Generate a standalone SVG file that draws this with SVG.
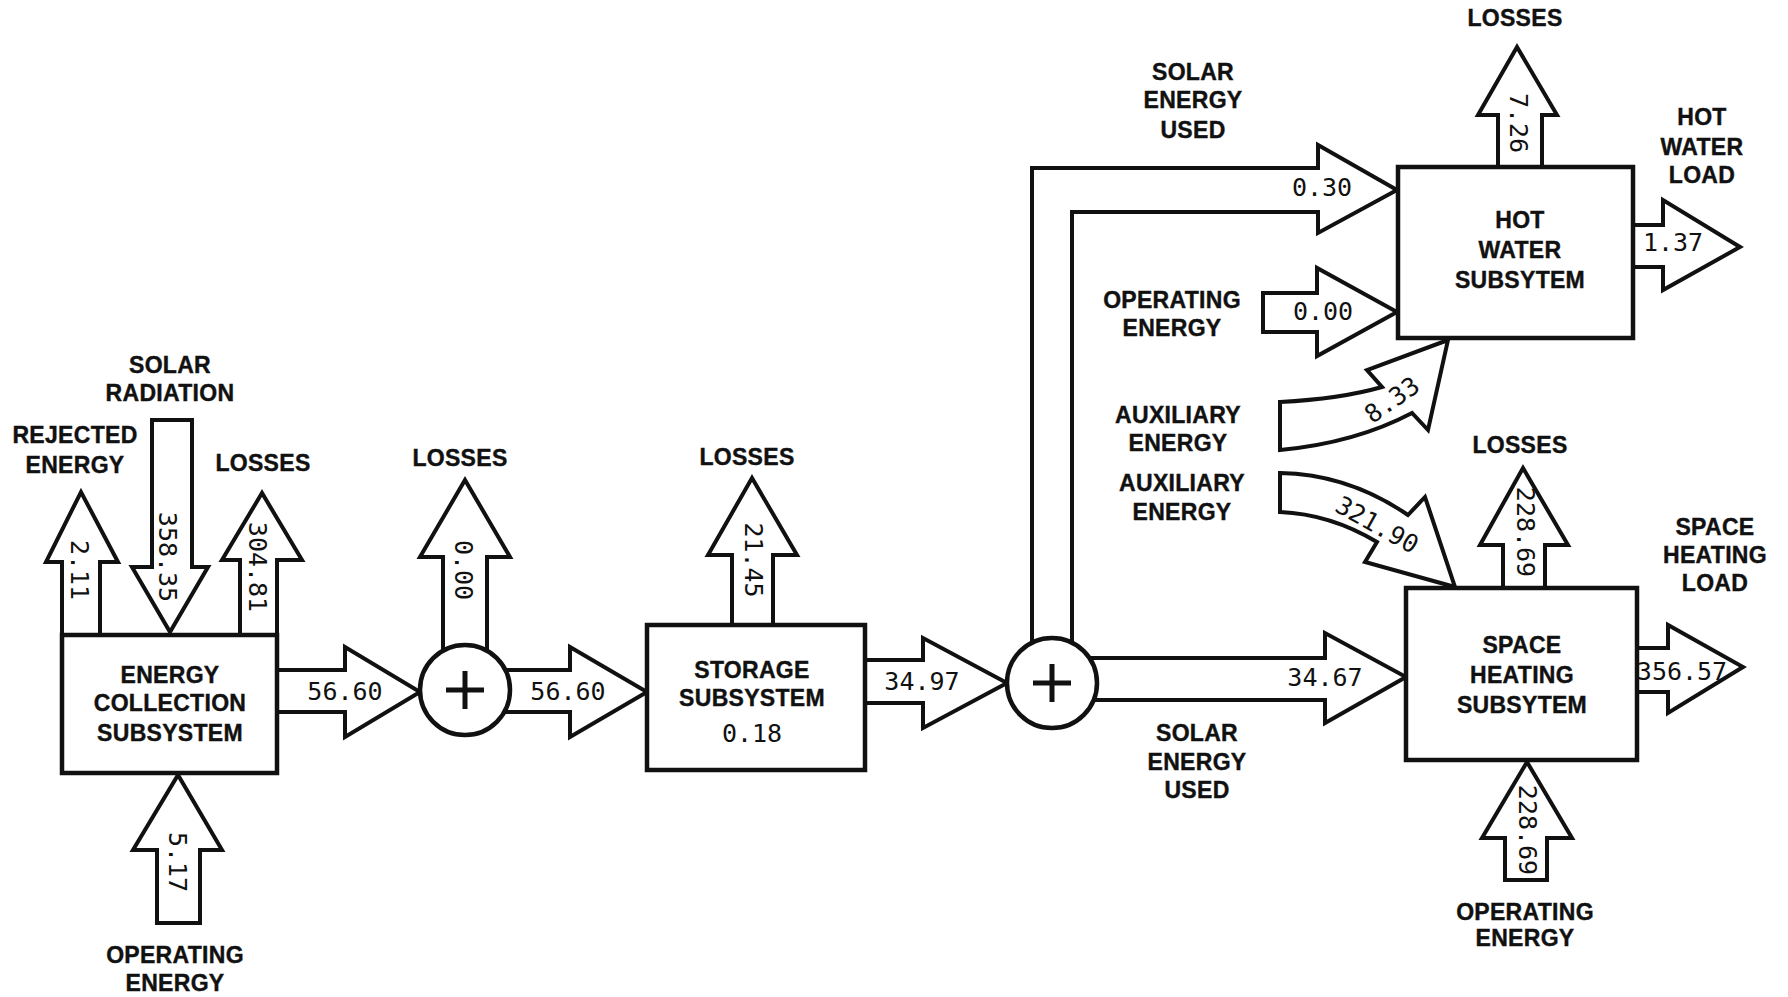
<svg xmlns="http://www.w3.org/2000/svg" width="1788" height="997" viewBox="0 0 1788 997">
<style>
.ar{fill:#fff;stroke:#111;stroke-width:4;stroke-linejoin:miter}
.bx{fill:#fff;stroke:#111;stroke-width:4.5}
.lb{font-family:"Liberation Sans",Arial,sans-serif;font-weight:bold;font-size:23px;fill:#111;text-anchor:middle;letter-spacing:0.3px;stroke:#111;stroke-width:0.4}
.nm{font-family:"DejaVu Sans Mono","Liberation Mono",monospace;font-size:25px;fill:#111;text-anchor:middle}
.pl{fill:none;stroke:#111;stroke-width:5}
</style>
<rect width="1788" height="997" fill="#fff"/>
<g id="connectors">
<path class="ar" d="M62,640 L62,562 L46,562 L81,492 L118,562 L100,562 L100,640"/>
<path class="ar" d="M152,420 L192,420 L192,567 L208,567 L170,632 L132,567 L152,567 Z"/>
<path class="ar" d="M240,640 L240,560 L222,560 L262,493 L302,560 L277,560 L277,640"/>
<path class="ar" d="M157,923 L157,850 L133,850 L178,775 L222,850 L200,850 L200,923 Z"/>
<path class="ar" d="M270,670 L345,670 L345,647 L420,692 L345,737 L345,712 L270,712"/>
<path class="ar" d="M443,680 L443,557 L420,557 L465,480 L510,557 L487,557 L487,680"/>
<path class="ar" d="M495,670 L570,670 L570,647 L647,692 L570,737 L570,712 L495,712"/>
<path class="ar" d="M732,640 L732,555 L708,555 L752,478 L797,555 L773,555 L773,640"/>
<path class="ar" d="M855,660 L923,660 L923,638 L1007,683 L923,728 L923,703 L855,703"/>
<path class="ar" d="M1032,665 L1032,168 L1318,168 L1318,145 L1397,190 L1318,233 L1318,212 L1072,212 L1072,665"/>
<path class="ar" d="M1263,293 L1317,293 L1317,268 L1397,312 L1317,356 L1317,332 L1263,332 Z"/>
<path class="ar" d="M1498,180 L1498,115 L1478,115 L1517,47 L1557,115 L1542,115 L1542,180"/>
<path class="ar" d="M1620,225 L1663,225 L1663,200 L1740,247 L1663,290 L1663,267 L1620,267"/>
<path class="ar" d="M1280,402 Q1340,399 1382,387 L1367,370 L1448,340 L1428,430 L1412,413 Q1355,443 1280,450 Z"/>
<path class="ar" d="M1280,473 Q1348,474 1408,515 L1425,497 L1455,587 L1365,562 L1377,542 Q1330,514 1280,512 Z"/>
<path class="ar" d="M1070,658 L1325,658 L1325,633 L1406,677 L1325,723 L1325,700 L1070,700"/>
<path class="ar" d="M1503,600 L1503,545 L1480,545 L1523,468 L1568,545 L1545,545 L1545,600"/>
<path class="ar" d="M1625,648 L1668,648 L1668,625 L1743,667 L1668,713 L1668,692 L1625,692"/>
<path class="ar" d="M1505,880 L1505,838 L1482,838 L1527,762 L1572,838 L1547,838 L1547,880 Z"/>
</g>
<g id="energy-collection">
<rect class="bx" x="62" y="635" width="215" height="138"/>
<text class="lb" x="170" y="683">ENERGY</text>
<text class="lb" x="170" y="711">COLLECTION</text>
<text class="lb" x="170" y="741">SUBSYSTEM</text>
</g>
<g id="sum1">
<circle class="bx" cx="465" cy="690" r="45"/>
<path class="pl" d="M465,671 V709 M446,690 H484"/>
</g>
<g id="storage">
<rect class="bx" x="647" y="625" width="218" height="145"/>
<text class="lb" x="752" y="678">STORAGE</text>
<text class="lb" x="752" y="706">SUBSYSTEM</text>
<text class="nm" x="752" y="742">0.18</text>
</g>
<g id="sum2">
<circle class="bx" cx="1052" cy="683" r="45"/>
<path class="pl" d="M1052,664 V702 M1033,683 H1071"/>
</g>
<g id="hot-water">
<rect class="bx" x="1398" y="167" width="235" height="171"/>
<text class="lb" x="1520" y="228">HOT</text>
<text class="lb" x="1520" y="258">WATER</text>
<text class="lb" x="1520" y="288">SUBSYTEM</text>
</g>
<g id="space-heating">
<rect class="bx" x="1406" y="588" width="231" height="172"/>
<text class="lb" x="1522" y="653">SPACE</text>
<text class="lb" x="1522" y="683">HEATING</text>
<text class="lb" x="1522" y="713">SUBSYTEM</text>
</g>
<g id="values">
<text class="nm" x="345" y="700">56.60</text>
<text class="nm" x="568" y="700">56.60</text>
<text class="nm" x="922" y="690">34.97</text>
<text class="nm" x="1322" y="196">0.30</text>
<text class="nm" x="1323" y="320">0.00</text>
<text class="nm" x="1673" y="251">1.37</text>
<text class="nm" x="1325" y="686">34.67</text>
<text class="nm" x="1682" y="680">356.57</text>
<text class="nm" transform="translate(79,570) rotate(90)" dominant-baseline="central">2.11</text>
<text class="nm" transform="translate(167,557) rotate(90)" dominant-baseline="central">358.35</text>
<text class="nm" transform="translate(257,567) rotate(90)" dominant-baseline="central">304.81</text>
<text class="nm" transform="translate(177,862) rotate(90)" dominant-baseline="central">5.17</text>
<text class="nm" transform="translate(463,570) rotate(90)" dominant-baseline="central">0.00</text>
<text class="nm" transform="translate(753,560) rotate(90)" dominant-baseline="central">21.45</text>
<text class="nm" transform="translate(1518,123) rotate(90)" dominant-baseline="central">7.26</text>
<text class="nm" transform="translate(1525,532) rotate(90)" dominant-baseline="central">228.69</text>
<text class="nm" transform="translate(1527,830) rotate(90)" dominant-baseline="central">228.69</text>
<text class="nm" transform="translate(1392,400) rotate(-35)" dominant-baseline="central">8.33</text>
<text class="nm" transform="translate(1377,525) rotate(29)" dominant-baseline="central">321.90</text>
</g>
<g id="labels">
<text class="lb" x="170" y="373">SOLAR</text>
<text class="lb" x="170" y="401">RADIATION</text>
<text class="lb" x="75" y="443">REJECTED</text>
<text class="lb" x="75" y="473">ENERGY</text>
<text class="lb" x="263" y="471">LOSSES</text>
<text class="lb" x="460" y="466">LOSSES</text>
<text class="lb" x="747" y="465">LOSSES</text>
<text class="lb" x="175" y="963">OPERATING</text>
<text class="lb" x="175" y="991">ENERGY</text>
<text class="lb" x="1193" y="80">SOLAR</text>
<text class="lb" x="1193" y="108">ENERGY</text>
<text class="lb" x="1193" y="138">USED</text>
<text class="lb" x="1515" y="26">LOSSES</text>
<text class="lb" x="1702" y="125">HOT</text>
<text class="lb" x="1702" y="155">WATER</text>
<text class="lb" x="1702" y="183">LOAD</text>
<text class="lb" x="1172" y="308">OPERATING</text>
<text class="lb" x="1172" y="336">ENERGY</text>
<text class="lb" x="1178" y="423">AUXILIARY</text>
<text class="lb" x="1178" y="451">ENERGY</text>
<text class="lb" x="1182" y="491">AUXILIARY</text>
<text class="lb" x="1182" y="520">ENERGY</text>
<text class="lb" x="1520" y="453">LOSSES</text>
<text class="lb" x="1715" y="535">SPACE</text>
<text class="lb" x="1715" y="563">HEATING</text>
<text class="lb" x="1715" y="591">LOAD</text>
<text class="lb" x="1197" y="741">SOLAR</text>
<text class="lb" x="1197" y="770">ENERGY</text>
<text class="lb" x="1197" y="798">USED</text>
<text class="lb" x="1525" y="920">OPERATING</text>
<text class="lb" x="1525" y="946">ENERGY</text>
</g>
</svg>
